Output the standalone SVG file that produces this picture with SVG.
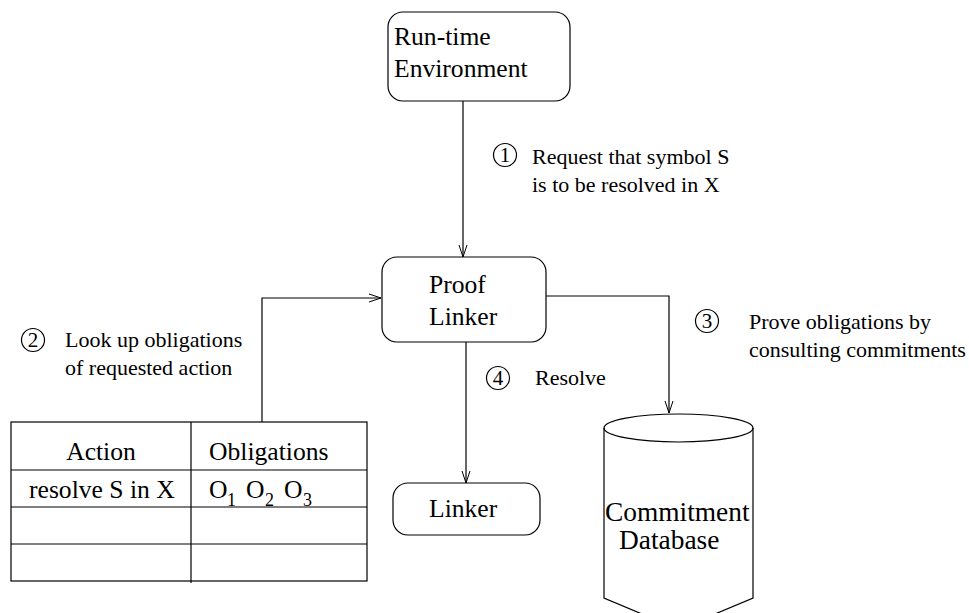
<svg xmlns="http://www.w3.org/2000/svg" width="969" height="613" viewBox="0 0 969 613">
<defs>
<marker id="arr" viewBox="0 0 14 10" refX="13" refY="5" markerWidth="14" markerHeight="10" markerUnits="userSpaceOnUse" orient="auto">
<path d="M1,1 L13,5 L1,9" fill="none" stroke="#000" stroke-width="1"/>
</marker>
<style>
.s{fill:none;stroke:#000;stroke-width:1.2}
text{font-family:'Liberation Serif','DejaVu Serif',serif;fill:#000}
.n{font-size:25.6px}
.db{font-size:27.4px}
.l{font-size:22px}
.c{font-size:21px}
.sub{font-size:18px}
</style>
</defs>
<rect width="969" height="613" fill="#fff"/>
<g id="connectors">
<path class="s" d="M463,101 V257" marker-end="url(#arr)"/>
<path class="s" d="M262,422 V298 H381" marker-end="url(#arr)"/>
<path class="s" d="M546,296 H669 V413" marker-end="url(#arr)"/>
<path class="s" d="M466,342 V483" marker-end="url(#arr)"/>
</g>
<g id="runtime">
<rect class="s" x="388" y="12" width="182" height="89" rx="15"/>
<text class="n" x="394" y="45">Run-time</text>
<text class="n" x="394" y="77">Environment</text>
</g>
<g id="prooflinker">
<rect class="s" x="382" y="257" width="164" height="85" rx="15"/>
<text class="n" x="429" y="293">Proof</text>
<text class="n" x="429" y="325">Linker</text>
</g>
<g id="linker">
<rect class="s" x="393" y="483" width="147" height="52" rx="15"/>
<text class="n" x="429" y="517">Linker</text>
</g>
<g id="database">
<path class="s" d="M604,428 V598 L642,614 L715,614 L753,598 V428"/>
<ellipse class="s" cx="678.5" cy="428" rx="74.5" ry="14"/>
<text class="db" x="605" y="521">Commitment</text>
<text class="db" x="619" y="549">Database</text>
</g>
<g id="table">
<rect class="s" x="11" y="422" width="356" height="159"/>
<path class="s" d="M191,422 V583 M11,470 H367 M11,507 H367 M11,544 H367"/>
<text class="n" x="101" y="460" text-anchor="middle">Action</text>
<text class="n" x="209" y="460">Obligations</text>
<text class="n" x="29" y="498">resolve S in X</text>
<text class="n" x="209" y="498">O<tspan class="sub" x="227" dy="8">1</tspan><tspan x="246" dy="-8">O</tspan><tspan class="sub" x="265" dy="8">2</tspan><tspan x="284" dy="-8">O</tspan><tspan class="sub" x="303" dy="8">3</tspan></text>
</g>
<g id="label1">
<circle class="s" cx="505" cy="155" r="11.5"/>
<text class="c" x="505" y="162" text-anchor="middle">1</text>
<text class="l" x="532" y="164">Request that symbol S</text>
<text class="l" x="532" y="192">is to be resolved in X</text>
</g>
<g id="label2">
<circle class="s" cx="33" cy="340" r="11.5"/>
<text class="c" x="33" y="347" text-anchor="middle">2</text>
<text class="l" x="65" y="347">Look up obligations</text>
<text class="l" x="65" y="375">of requested action</text>
</g>
<g id="label3">
<circle class="s" cx="707" cy="321" r="11.5"/>
<text class="c" x="707" y="328" text-anchor="middle">3</text>
<text class="l" x="749" y="329">Prove obligations by</text>
<text class="l" x="749" y="357">consulting commitments</text>
</g>
<g id="label4">
<circle class="s" cx="498" cy="378" r="11.5"/>
<text class="c" x="498" y="385" text-anchor="middle">4</text>
<text class="l" x="535" y="385">Resolve</text>
</g>
</svg>
